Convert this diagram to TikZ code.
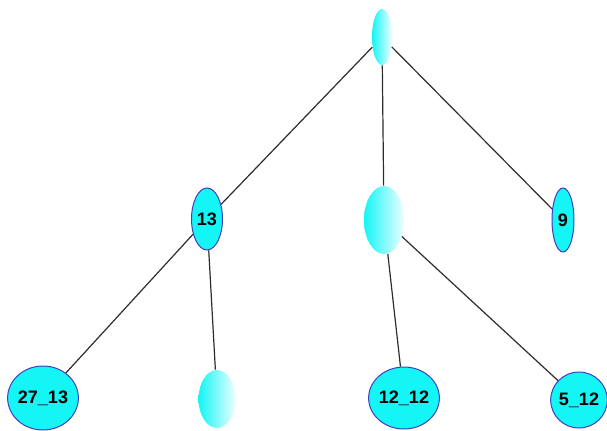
\documentclass[tikz,border=0pt]{standalone}
\usepackage{fontspec}
\setmainfont{Liberation Sans}
\usetikzlibrary{shapes.geometric}
\definecolor{aqua}{RGB}{20,245,245}
\definecolor{rim}{RGB}{70,60,190}
\definecolor{wire}{RGB}{45,45,45}
\begin{document}
\begin{tikzpicture}[x=0.5pt,y=-0.5pt,
    leaf/.style={ellipse,inner sep=0pt,fill=aqua,draw=rim,line width=0.5pt,
      font=\bfseries\fontsize{9}{10}\selectfont},
    blank/.style={ellipse,inner sep=0pt,left color=aqua,middle color=aqua!85!white,
      right color=aqua!8!white},
    branch/.style={wire,line width=0.6pt}]
  \useasboundingbox (0,0) rectangle (607,430);

  % top level
  \node[blank,minimum width=10pt,minimum height=28pt] (root) at (382,37) {};
  \node[leaf,minimum width=15.5pt,minimum height=31pt] (n13) at (207,219) {13};
  \node[blank,minimum width=20pt,minimum height=34pt] (mid) at (384,220) {};
  \node[leaf,minimum width=11pt,minimum height=32pt] (n9) at (563,220) {9};

  % bottom level
  \node[leaf,minimum width=33pt,minimum height=32pt] (n27) at (43,398) {27\_13};
  \node[blank,minimum width=18.5pt,minimum height=29pt] (low) at (217,399) {};
  \node[leaf,minimum width=32pt,minimum height=31pt] (n1212) at (404,398) {12\_12};
  \node[leaf,minimum width=26.5pt,minimum height=28pt] (n512) at (579,400) {5\_12};

  \draw[branch] (root) -- (n13);
  \draw[branch] (root) -- (mid);
  \draw[branch] (root) -- (n9);
  \draw[branch] (n13) -- (n27);
  \draw[branch] (n13) -- (low);
  \draw[branch] (mid) -- (n1212);
  \draw[branch] (mid) -- (n512);
\end{tikzpicture}
\end{document}
